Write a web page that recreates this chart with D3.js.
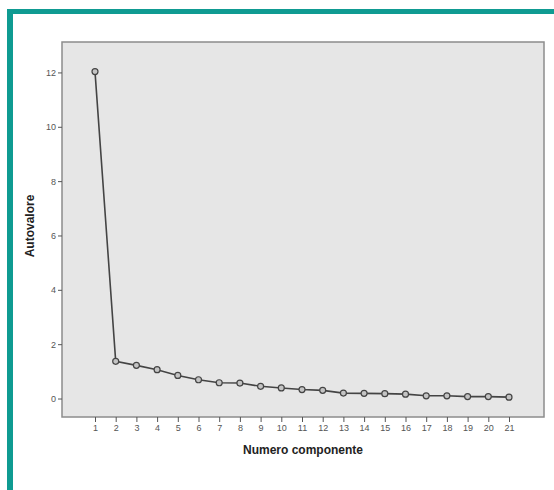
<!DOCTYPE html>
<html>
<head>
<meta charset="utf-8">
<script src="https://cdn.jsdelivr.net/npm/d3@7"></script>
<style>
  html, body { margin: 0; padding: 0; background: #fff; }
  svg { display: block; }
</style>
</head>
<body>
<svg id="chart" width="554" height="490"></svg>
<script>
// Scree plot: eigenvalue for each extracted component
const components = d3.range(1, 22);
const eigenvalues = [12.03, 1.37, 1.22, 1.06, 0.85, 0.69, 0.58, 0.57, 0.45, 0.39,
                     0.33, 0.30, 0.20, 0.19, 0.18, 0.16, 0.10, 0.10, 0.07, 0.07, 0.05];
const yTicks = [0, 2, 4, 6, 8, 10, 12];

const svg = d3.select("#chart");

// teal frame (top and left edges)
svg.append("rect").attr("x", 7).attr("y", 9).attr("width", 547).attr("height", 5).attr("fill", "#0f9b92");
svg.append("rect").attr("x", 7).attr("y", 9).attr("width", 6).attr("height", 481).attr("fill", "#0f9b92");

const plot = { left: 62, top: 42, right: 544, bottom: 417 };

const x = d3.scaleLinear()
  .domain([1 - 33 / 20.7, 21 + 35 / 20.7])
  .range([plot.left, plot.right]);
const y = d3.scaleLinear()
  .domain([-0.68, 13.12])
  .range([plot.bottom, plot.top]);

// plot background
svg.append("rect")
  .attr("x", plot.left).attr("y", plot.top)
  .attr("width", plot.right - plot.left).attr("height", plot.bottom - plot.top)
  .attr("fill", "#e6e6e6")
  .attr("stroke", "#8c8c8c").attr("stroke-width", 1.5);

// y axis
const yAxis = svg.append("g")
  .attr("transform", `translate(${plot.left},0)`)
  .call(d3.axisLeft(y).tickValues(yTicks).tickSize(4).tickPadding(2).tickFormat(d3.format("d")));
yAxis.select(".domain").remove();
yAxis.selectAll("line").attr("stroke", "#555");
yAxis.selectAll("text").attr("fill", "#555").style("font-family", "Liberation Sans, Arial, sans-serif").style("font-size", "9px");

// x axis
const xAxis = svg.append("g")
  .attr("transform", `translate(0,${plot.bottom})`)
  .call(d3.axisBottom(x).tickValues(components).tickSize(5).tickPadding(3).tickFormat(d3.format("d")));
xAxis.select(".domain").remove();
xAxis.selectAll("line").attr("stroke", "#555");
xAxis.selectAll("text").attr("fill", "#555").style("font-family", "Liberation Sans, Arial, sans-serif").style("font-size", "9px");

// axis titles
svg.append("text")
  .attr("x", (plot.left + plot.right) / 2).attr("y", 454)
  .attr("text-anchor", "middle")
  .style("font-family", "Liberation Sans, Arial, sans-serif")
  .style("font-size", "12px").style("font-weight", "bold").attr("fill", "#222")
  .text("Numero componente");
svg.append("text")
  .attr("transform", `translate(34,226) rotate(-90)`)
  .attr("text-anchor", "middle")
  .style("font-family", "Liberation Sans, Arial, sans-serif")
  .style("font-size", "12px").style("font-weight", "bold").attr("fill", "#222")
  .text("Autovalore");

// series line and markers
const pts = components.map((c, i) => [c, eigenvalues[i]]);
svg.append("path")
  .datum(pts)
  .attr("fill", "none").attr("stroke", "#444").attr("stroke-width", 1.6)
  .attr("d", d3.line().x(d => x(d[0])).y(d => y(d[1])));
svg.selectAll("circle.pt")
  .data(pts)
  .join("circle")
  .attr("class", "pt")
  .attr("cx", d => x(d[0])).attr("cy", d => y(d[1]))
  .attr("r", 3)
  .attr("fill", "#c4c4c4").attr("stroke", "#444").attr("stroke-width", 1.2);
</script>
</body>
</html>
